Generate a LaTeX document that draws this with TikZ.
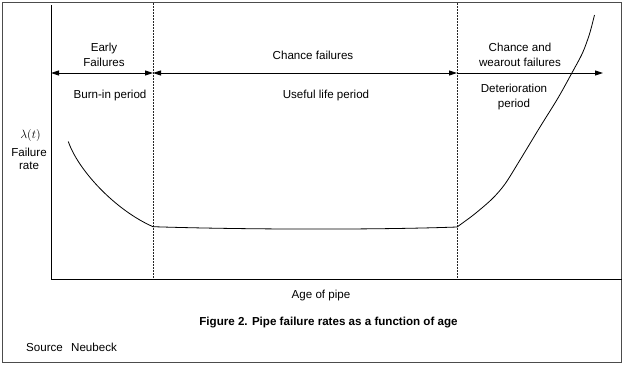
\documentclass[tikz,border=0pt]{standalone}
\usepackage{fontspec}
\setmainfont{Liberation Sans}
\usetikzlibrary{arrows.meta}
\begin{document}
\begin{tikzpicture}[x=1pt,y=-1pt,
  lbl/.style={font=\fontsize{11.6}{15}\selectfont, align=center, inner sep=0pt},
  divider/.style={draw=black!85, line width=0.7pt, dash pattern=on 2pt off 1pt},
  span/.style={line width=0.9pt, -{Triangle[length=8pt,width=5pt]}},
  spanboth/.style={line width=0.9pt, {Triangle[length=8pt,width=5pt]}-{Triangle[length=8pt,width=5pt]}},
  curve/.style={line width=0.8pt}]
\useasboundingbox (0,0) rectangle (624,365);
\draw[black!70, line width=1pt] (2.5,2.5) rectangle (621.5,362.5);
% axes
\coordinate (ytop) at (51,5);
\coordinate (org) at (51,279);
\coordinate (xend) at (622,279);
\draw[line width=0.9pt] (ytop) -- (org) -- (xend);
% dividers
\coordinate (d1t) at (153,3);
\coordinate (d1b) at (153,279);
\coordinate (d2t) at (457,3);
\coordinate (d2b) at (457,279);
\draw[divider] (d1t) -- (d1b);
\draw[divider] (d2t) -- (d2b);
% arrows
\coordinate (a0) at (51,73);
\coordinate (a1) at (153,73);
\coordinate (a2) at (457,73);
\coordinate (a3) at (603,73);
\draw[spanboth] (a0) -- (a1);
\draw[spanboth] (a1) -- (a2);
\draw[span] (a2) -- (a3);
% labels
\node[lbl] (early) at (104,55) {Early\\Failures};
\node[lbl] (chance) at (313,55) {Chance failures};
\node[lbl] (wear) at (520,55) {Chance and\\wearout failures};
\node[lbl] (burn) at (110,95) {Burn-in period};
\node[lbl] (useful) at (326,95) {Useful life period};
\node[lbl] (deter) at (514,96.5) {Deterioration\\period};
\node[inner sep=0pt, font=\fontsize{12}{14}\selectfont] (lam) at (30.5,135) {$\lambda(t)$};
\node[lbl, font=\fontsize{11.6}{12.5}\selectfont] (frate) at (29,159) {Failure\\rate};
\node[lbl] (age) at (321,295) {Age of pipe};
\node[lbl, font=\fontsize{11.6}{13}\selectfont\bfseries] (cap) at (328.5,323) {Figure 2. Pipe failure rates as a function of age};
\node[lbl, anchor=west] (src) at (26,347) {Source\hspace{5pt} Neubeck};
% curve
\coordinate (c0) at (68.3,141.5);
\coordinate (c1) at (153,226.7);
\coordinate (c2) at (457,227);
\coordinate (c3) at (594.5,15);
\draw[curve] (c0) .. controls (78,170) and (115,210) .. (c1);
\draw[curve] (c1) .. controls (250,229.8) and (380,229.8) .. (c2);
\draw[curve] plot[smooth, tension=0.5] coordinates {(457,227) (474,214.5) (492,199) (505,184) (520,160) (540,127) (558,98) (571.7,73.3) (582.5,53) (589.5,34) (594.5,15)};
\end{tikzpicture}
\end{document}
